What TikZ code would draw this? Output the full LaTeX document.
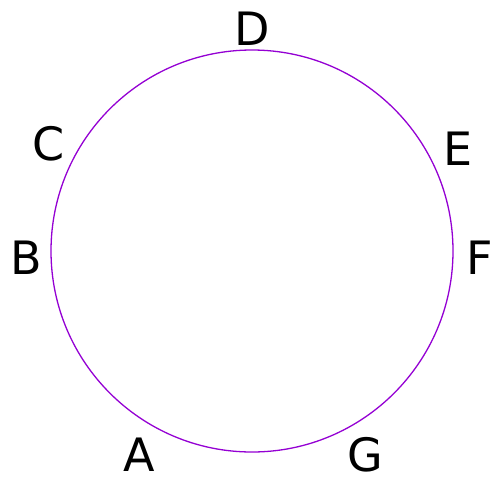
\documentclass[tikz,border=0pt]{standalone}
\usepackage{fontspec}
\setmainfont{DejaVu Sans}
\usetikzlibrary{positioning}
\definecolor{ringcol}{HTML}{9400D3}

\begin{document}
\begin{tikzpicture}[x=1pt, y=-1pt]
    \tikzstyle{lbl} += [inner sep=0pt, font=\fontsize{46}{54}\selectfont];
    \useasboundingbox (0,0) rectangle (492,483);
    \coordinate (O) at (252,251);
    \draw[ringcol, line width=1.3pt] (O) circle[radius=201];
    \node (A) at (139,455) [lbl]{A};
    \node (B) at ( 26,258) [lbl]{B};
    \node (C) at ( 49,144) [lbl]{C};
    \node (D) at (252, 29) [lbl]{D};
    \node (E) at (458,149) [lbl]{E};
    \node (F) at (480,258) [lbl]{F};
    \node (G) at (365,455) [lbl]{G};
\end{tikzpicture}
\end{document}
